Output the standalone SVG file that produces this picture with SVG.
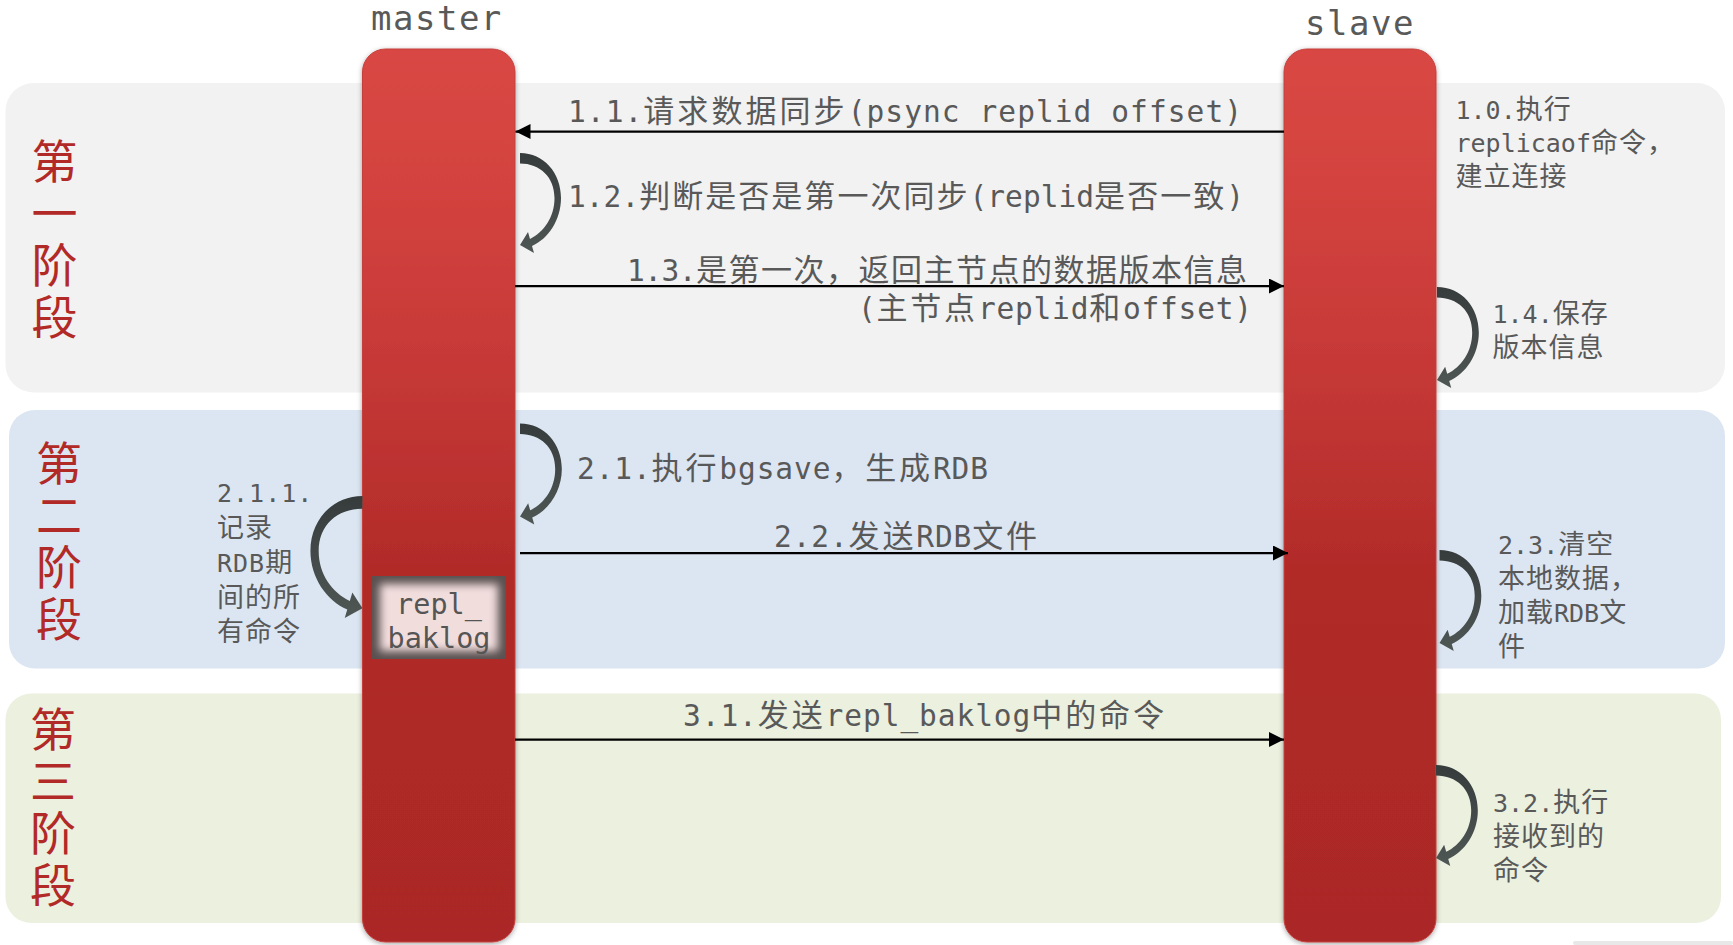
<svg xmlns="http://www.w3.org/2000/svg" width="1733" height="945" viewBox="0 0 1733 945">
<style>
.t{font-family:"DejaVu Sans Mono","Noto Sans CJK SC",monospace;font-size:25px;fill:#595959}
.m{font-family:"DejaVu Sans Mono","Noto Sans CJK SC",monospace;font-size:29.5px;fill:#595959}
.m .c{font-size:31px;letter-spacing:2px}
.c{font-family:"Noto Sans CJK SC",sans-serif;font-size:27px;letter-spacing:1px}
.ph{font-family:"Noto Sans CJK SC",sans-serif;font-size:46px;letter-spacing:6px;fill:#b22a27;writing-mode:vertical-rl}
.hd{font-family:"DejaVu Sans Mono",monospace;font-size:34px;letter-spacing:1.5px;fill:#595959}
.bar{fill:url(#barg);stroke:#c4403d;stroke-width:1;filter:url(#sh)}
.conn{stroke:#000;stroke-width:2.25;fill:none;marker-end:url(#ah)}
.curl{fill:url(#curlg)}
</style>
<defs>
<linearGradient id="barg" x1="0" y1="0" x2="0" y2="1">
<stop offset="0" stop-color="#d94744"/>
<stop offset="0.15" stop-color="#d4433f"/>
<stop offset="0.4" stop-color="#c23634"/>
<stop offset="0.6" stop-color="#b02a27"/>
<stop offset="1" stop-color="#ab2826"/>
</linearGradient>
<linearGradient id="curlg" x1="0" y1="0" x2="0" y2="1">
<stop offset="0" stop-color="#363c3c"/>
<stop offset="1" stop-color="#4f5755"/>
</linearGradient>
<filter id="sh" x="-20%" y="-5%" width="140%" height="110%">
<feDropShadow dx="0" dy="1.5" stdDeviation="2.5" flood-color="#000" flood-opacity="0.35"/>
</filter>
<filter id="soft" x="-30%" y="-30%" width="160%" height="160%">
<feGaussianBlur stdDeviation="4.5"/>
</filter>
<clipPath id="bclip"><rect x="372" y="576" width="134" height="83"/></clipPath>
<marker id="ah" markerUnits="userSpaceOnUse" markerWidth="16" markerHeight="16" refX="15" refY="7.5" orient="auto">
<path d="M0,0 L15,7.5 L0,15 Z" fill="#000"/>
</marker>
<path id="curl" d="M0,0 C24,0 41,20 41,45 C41,67 28,86 12,93 L14,100 L0,92 L8,79 L10,86 C24,79 34.5,64 34.5,45 C34.5,24 20,10.5 0,10.5 Z"/>
</defs>

<rect width="1733" height="945" fill="#fff"/>

<g id="phase1">
<rect x="5.5" y="83" width="1719.5" height="309.5" rx="28" fill="#f2f2f2"/>
<text class="ph" x="54.5" y="138">第一阶段</text>
</g>
<g id="phase2">
<rect x="9" y="410" width="1716" height="258.5" rx="26" fill="#dce6f2"/>
<text class="ph" x="59" y="440">第二阶段</text>
</g>
<g id="phase3">
<rect x="5.5" y="693.5" width="1715.5" height="229.5" rx="26" fill="#ebf0df"/>
<text class="ph" x="53" y="706">第三阶段</text>
</g>

<rect x="1573" y="941" width="160" height="4" rx="2" fill="#e8e8e8"/>

<g id="master">
<text class="hd" x="371" y="30">master</text>
<rect class="bar" x="362.5" y="49" width="152.5" height="893" rx="23"/>
</g>
<g id="slave">
<text class="hd" x="1305" y="34.5">slave</text>
<rect class="bar" x="1284" y="49" width="152" height="893" rx="23"/>
</g>

<g id="repl_baklog">
<g clip-path="url(#bclip)">
<rect x="372" y="576" width="134" height="83" fill="#5a5050"/>
<rect x="380" y="584" width="118" height="67" fill="#f2dddd" filter="url(#soft)"/>
</g>
<text class="t" style="font-size:28.5px;fill:#555" text-anchor="middle"><tspan x="439" y="614">repl_</tspan><tspan x="439" y="648">baklog</tspan></text>
</g>

<g id="connectors">
<line class="conn" x1="1284" y1="131.5" x2="515.5" y2="131.5"/>
<line class="conn" x1="515" y1="286" x2="1284" y2="286"/>
<line class="conn" x1="520" y1="553" x2="1288" y2="553"/>
<line class="conn" x1="515" y1="739.5" x2="1284" y2="739.5"/>
<use href="#curl" class="curl" transform="translate(520,153)"/>
<use href="#curl" class="curl" transform="translate(520,423.5) scale(1.02,1.01)"/>
<use href="#curl" class="curl" transform="translate(1437,287) scale(1.02,1.01)"/>
<use href="#curl" class="curl" transform="translate(1439.5,550) scale(1.02,1.01)"/>
<use href="#curl" class="curl" transform="translate(1436,765) scale(1.02,1.01)"/>
<use href="#curl" class="curl" transform="translate(362.5,496) scale(-1.27,1.22)"/>
</g>

<g id="labels">
<text class="m" x="568" y="121.5" textLength="674" lengthAdjust="spacing">1.1.<tspan class="c">请求数据同步</tspan>(psync replid offset)</text>
<text class="m" x="568" y="206.5" textLength="676" lengthAdjust="spacing">1.2.<tspan class="c">判断是否是第一次同步</tspan>(replid<tspan class="c">是否一致</tspan>)</text>
<text class="m" x="627" y="280.5" textLength="622" lengthAdjust="spacing">1.3.<tspan class="c">是第一次，返回主节点的数据版本信息</tspan></text>
<text class="m" x="858" y="318.5" textLength="394" lengthAdjust="spacing">(<tspan class="c">主节点</tspan>replid<tspan class="c">和</tspan>offset)</text>
<text class="m" x="577" y="479" textLength="411" lengthAdjust="spacing">2.1.<tspan class="c">执行</tspan>bgsave<tspan class="c">，生成</tspan>RDB</text>
<text class="m" x="774" y="546.5" textLength="265" lengthAdjust="spacing">2.2.<tspan class="c">发送</tspan>RDB<tspan class="c">文件</tspan></text>
<text class="m" x="683" y="726" textLength="483" lengthAdjust="spacing">3.1.<tspan class="c">发送</tspan>repl_baklog<tspan class="c">中的命令</tspan></text>

<text class="t"><tspan x="1455.5" y="119">1.0.<tspan class="c">执行</tspan></tspan><tspan x="1455.5" y="152">replicaof<tspan class="c">命令，</tspan></tspan><tspan x="1455.5" y="185.5" class="c">建立连接</tspan></text>
<text class="t"><tspan x="1492.5" y="323">1.4.<tspan class="c">保存</tspan></tspan><tspan x="1492.5" y="357" class="c">版本信息</tspan></text>
<text class="t"><tspan x="1498" y="553.5">2.3.<tspan class="c">清空</tspan></tspan><tspan x="1498" y="587.5" class="c">本地数据，</tspan><tspan x="1498" y="621.5"><tspan class="c">加载</tspan>RDB<tspan class="c">文</tspan></tspan><tspan x="1498" y="655.5" class="c">件</tspan></text>
<text class="t"><tspan x="1493" y="812">3.2.<tspan class="c">执行</tspan></tspan><tspan x="1493" y="846" class="c">接收到的</tspan><tspan x="1493" y="880" class="c">命令</tspan></text>
<text class="t" style="letter-spacing:1px"><tspan x="217" y="502">2.1.1.</tspan><tspan x="217" y="537" class="c">记录</tspan><tspan x="217" y="572">RDB<tspan class="c">期</tspan></tspan><tspan x="217" y="607" class="c">间的所</tspan><tspan x="217" y="641" class="c">有命令</tspan></text>
</g>
</svg>
